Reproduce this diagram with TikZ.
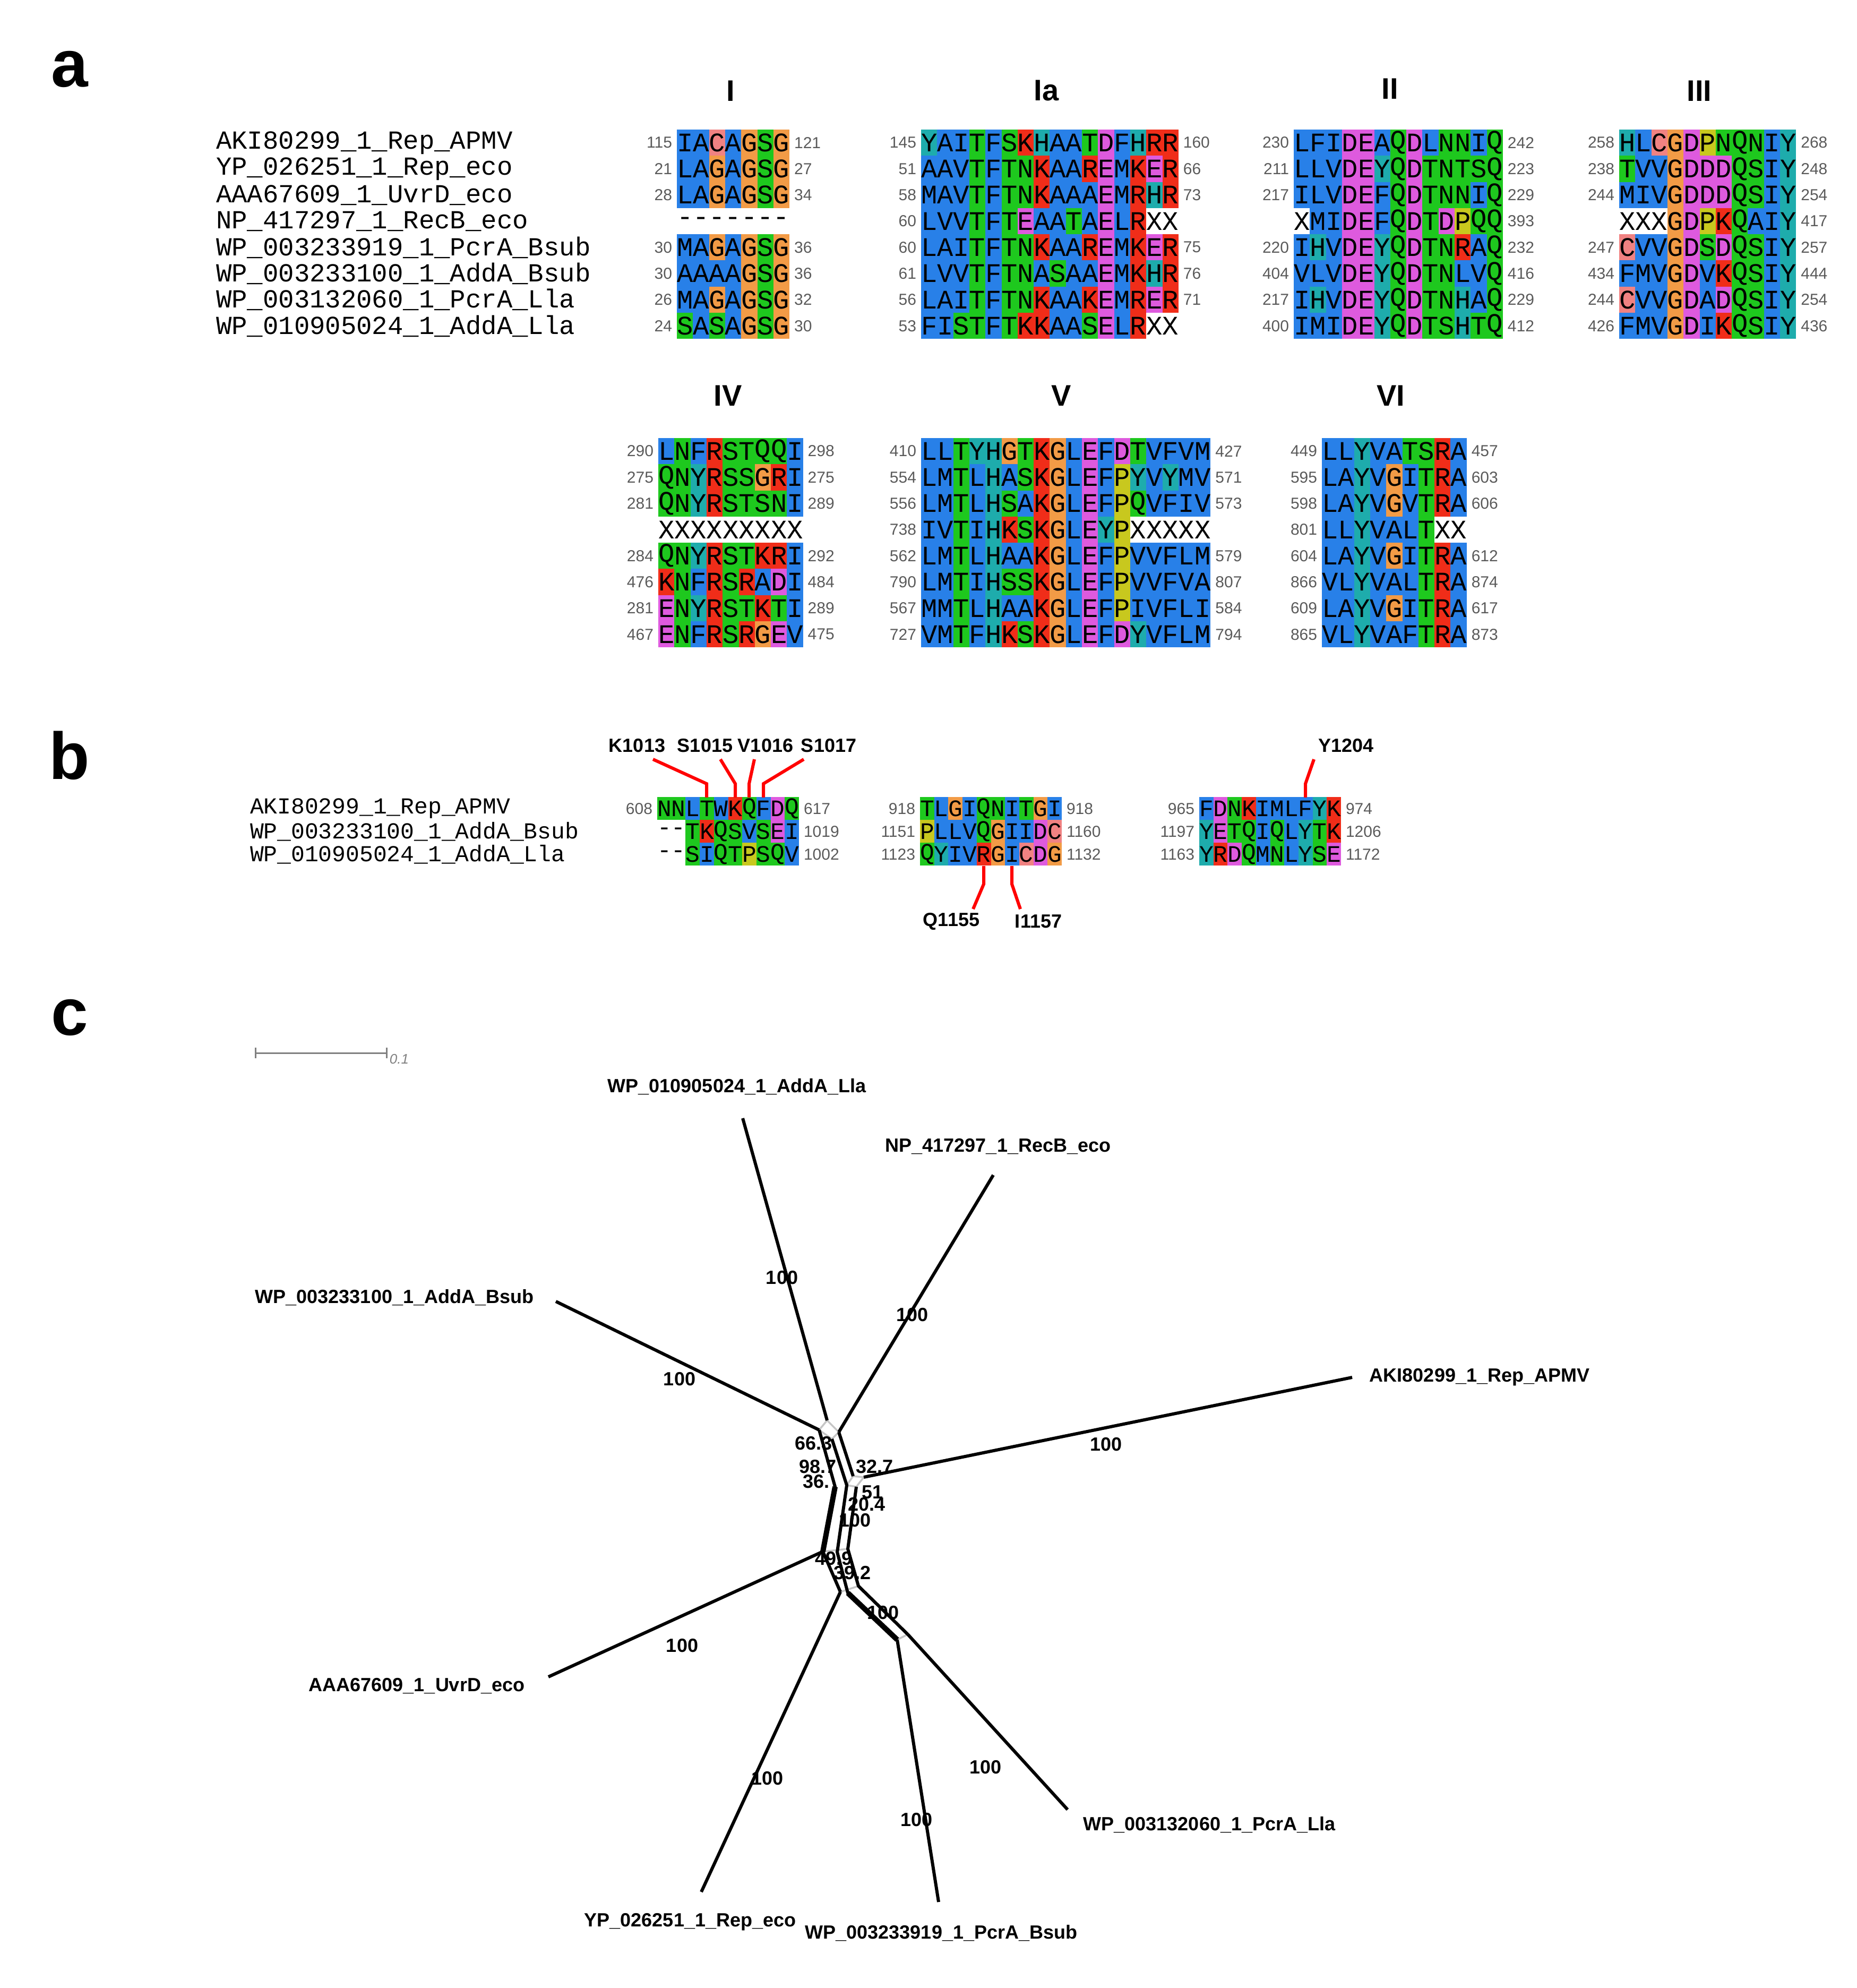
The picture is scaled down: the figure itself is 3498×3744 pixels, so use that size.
\documentclass[tikz,border=0pt]{standalone}
\usepackage{fontspec}
\setmainfont{Liberation Sans}
\newfontfamily\monof{Liberation Mono}
\definecolor{aBlue}{RGB}{40,128,232}
\definecolor{aGreen}{RGB}{30,200,30}
\definecolor{aRed}{RGB}{240,45,25}
\definecolor{aMag}{RGB}{222,90,222}
\definecolor{aOra}{RGB}{242,155,70}
\definecolor{aYel}{RGB}{200,200,30}
\definecolor{aCya}{RGB}{30,172,172}
\definecolor{aPink}{RGB}{240,130,130}
\definecolor{numgray}{RGB}{90,90,90}
\def\defcol#1#2{\expandafter\def\csname cm#1\endcsname{#2}}
\defcol{A}{aBlue}\defcol{I}{aBlue}\defcol{L}{aBlue}\defcol{M}{aBlue}\defcol{F}{aBlue}\defcol{V}{aBlue}\defcol{W}{aBlue}
\defcol{K}{aRed}\defcol{R}{aRed}\defcol{E}{aMag}\defcol{D}{aMag}
\defcol{N}{aGreen}\defcol{Q}{aGreen}\defcol{S}{aGreen}\defcol{T}{aGreen}
\defcol{G}{aOra}\defcol{P}{aYel}\defcol{H}{aCya}\defcol{Y}{aCya}\defcol{C}{aPink}
\defcol{X}{white}\defcol{-}{white}
\newcount\ci
\def\CW{30.3}\def\CH{49.3}\def\SeqSize{5.05pt}
\def\seqcell#1{\edef\thecol{\csname cm#1\endcsname}%
 \fill[fill=\thecol] (\Sx+\the\ci*\CW,\Sy) rectangle ++(\CW,\CH);
 \node[inner sep=0pt,font=\monof\fontsize{\SeqSize}{\SeqSize}\selectfont] at (\Sx+\the\ci*\CW+0.5*\CW,\Sy+0.5*\CH) {#1};
 \global\advance\ci by 1 }
\def\seqloop#1{\ifx#1\relax\else\seqcell{#1}\expandafter\seqloop\fi}
\newcommand\seqrow[5]{\def\Sx{#1}\def\Sy{#2}\global\ci=0 \seqloop#4\relax
 \node[numf,anchor=east] at (#1-7,#2+0.5*\CH) {#3};
 \node[numf,anchor=west] at (#1+\the\ci*\CW+7,#2+0.5*\CH) {#5};}
\begin{document}
\begin{tikzpicture}[x=0.1pt,y=-0.1pt,
 numf/.style={inner sep=0pt,text=numgray,font=\fontsize{3pt}{3pt}\selectfont},
 hdr/.style={font=\bfseries\fontsize{12.5pt}{12.5pt}\selectfont,inner sep=0pt},
 motif/.style={font=\bfseries\fontsize{5.6pt}{5.6pt}\selectfont,inner sep=0pt},
 nm/.style={anchor=west,inner sep=0pt,font=\monof\fontsize{4.9pt}{4.9pt}\selectfont},
 nmb/.style={anchor=west,inner sep=0pt,font=\monof\fontsize{4.3pt}{4.3pt}\selectfont},
 lab/.style={font=\bfseries\fontsize{3.6pt}{3.6pt}\selectfont,inner sep=0pt},
 redl/.style={draw=red,line width=0.6pt},
 br/.style={line width=0.6pt,line join=round},
 gr/.style={draw=gray!45,line width=0.35pt}]
\useasboundingbox (0,0) rectangle (3498,3744);
% ---------- a ----------
\node[hdr] (pa) at (131,131) {a};
\node[motif] (mI) at (1376,171) {I};
\node[motif] (mIa) at (1971,171) {Ia};
\node[motif] (mII) at (2618,167) {II};
\node[motif] (mIII) at (3201,171) {III};
\foreach \n [count=\i from 0] in {AKI80299\_1\_Rep\_APMV,YP\_026251\_1\_Rep\_eco,AAA67609\_1\_UvrD\_eco,NP\_417297\_1\_RecB\_eco,WP\_003233919\_1\_PcrA\_Bsub,WP\_003233100\_1\_AddA\_Bsub,WP\_003132060\_1\_PcrA\_Lla,WP\_010905024\_1\_AddA\_Lla}
  \node[nm] (n\i) at (405,269+49.3*\i) {\n};
% block I
\seqrow{1275}{244.0}{115}{IACAGSG}{121}
\seqrow{1275}{293.3}{21}{LAGAGSG}{27}
\seqrow{1275}{342.6}{28}{LAGAGSG}{34}
\seqrow{1275}{391.9}{}{-------}{}
\seqrow{1275}{441.2}{30}{MAGAGSG}{36}
\seqrow{1275}{490.5}{30}{AAAAGSG}{36}
\seqrow{1275}{539.8}{26}{MAGAGSG}{32}
\seqrow{1275}{589.1}{24}{SASAGSG}{30}
% block Ia
\seqrow{1735}{244.0}{145}{YAITFSKHAATDFHRR}{160}
\seqrow{1735}{293.3}{51}{AAVTFTNKAAREMKER}{66}
\seqrow{1735}{342.6}{58}{MAVTFTNKAAAEMRHR}{73}
\seqrow{1735}{391.9}{60}{LVVTFTEAATAELRXX}{}
\seqrow{1735}{441.2}{60}{LAITFTNKAAREMKER}{75}
\seqrow{1735}{490.5}{61}{LVVTFTNASAAEMKHR}{76}
\seqrow{1735}{539.8}{56}{LAITFTNKAAKEMRER}{71}
\seqrow{1735}{589.1}{53}{FISTFTKKAASELRXX}{}
% block II
\seqrow{2437}{244.0}{230}{LFIDEAQDLNNIQ}{242}
\seqrow{2437}{293.3}{211}{LLVDEYQDTNTSQ}{223}
\seqrow{2437}{342.6}{217}{ILVDEFQDTNNIQ}{229}
\seqrow{2437}{391.9}{}{XMIDEFQDTDPQQ}{393}
\seqrow{2437}{441.2}{220}{IHVDEYQDTNRAQ}{232}
\seqrow{2437}{490.5}{404}{VLVDEYQDTNLVQ}{416}
\seqrow{2437}{539.8}{217}{IHVDEYQDTNHAQ}{229}
\seqrow{2437}{589.1}{400}{IMIDEYQDTSHTQ}{412}
% block III
\seqrow{3050}{244.0}{258}{HLCGDPNQNIY}{268}
\seqrow{3050}{293.3}{238}{TVVGDDDQSIY}{248}
\seqrow{3050}{342.6}{244}{MIVGDDDQSIY}{254}
\seqrow{3050}{391.9}{}{XXXGDPKQAIY}{417}
\seqrow{3050}{441.2}{247}{CVVGDSDQSIY}{257}
\seqrow{3050}{490.5}{434}{FMVGDVKQSIY}{444}
\seqrow{3050}{539.8}{244}{CVVGDADQSIY}{254}
\seqrow{3050}{589.1}{426}{FMVGDIKQSIY}{436}
% second row of motifs
\node[motif] (mIV) at (1371,745) {IV};
\node[motif] (mV) at (1999,745) {V};
\node[motif] (mVI) at (2620,745) {VI};
\seqrow{1240}{825.0}{290}{LNFRSTQQI}{298}
\seqrow{1240}{874.3}{275}{QNYRSSGRI}{275}
\seqrow{1240}{923.6}{281}{QNYRSTSNI}{289}
\seqrow{1240}{972.9}{}{XXXXXXXXX}{}
\seqrow{1240}{1022.2}{284}{QNYRSTKRI}{292}
\seqrow{1240}{1071.5}{476}{KNFRSRADI}{484}
\seqrow{1240}{1120.8}{281}{ENYRSTKTI}{289}
\seqrow{1240}{1170.1}{467}{ENFRSRGEV}{475}
\seqrow{1735}{825.0}{410}{LLTYHGTKGLEFDTVFVM}{427}
\seqrow{1735}{874.3}{554}{LMTLHASKGLEFPYVYMV}{571}
\seqrow{1735}{923.6}{556}{LMTLHSAKGLEFPQVFIV}{573}
\seqrow{1735}{972.9}{738}{IVTIHKSKGLEYPXXXXX}{}
\seqrow{1735}{1022.2}{562}{LMTLHAAKGLEFPVVFLM}{579}
\seqrow{1735}{1071.5}{790}{LMTIHSSKGLEFPVVFVA}{807}
\seqrow{1735}{1120.8}{567}{MMTLHAAKGLEFPIVFLI}{584}
\seqrow{1735}{1170.1}{727}{VMTFHKSKGLEFDYVFLM}{794}
\seqrow{2490}{825.0}{449}{LLYVATSRA}{457}
\seqrow{2490}{874.3}{595}{LAYVGITRA}{603}
\seqrow{2490}{923.6}{598}{LAYVGVTRA}{606}
\seqrow{2490}{972.9}{801}{LLYVALTXX}{}
\seqrow{2490}{1022.2}{604}{LAYVGITRA}{612}
\seqrow{2490}{1071.5}{866}{VLYVALTRA}{874}
\seqrow{2490}{1120.8}{609}{LAYVGITRA}{617}
\seqrow{2490}{1170.1}{865}{VLYVAFTRA}{873}
% ---------- b ----------
\node[hdr] (pb) at (131,1423) {b};
\node[nmb] (b0) at (469,1523) {AKI80299\_1\_Rep\_APMV};
\node[nmb] (b1) at (469,1566) {WP\_003233100\_1\_AddA\_Bsub};
\node[nmb] (b2) at (469,1609) {WP\_010905024\_1\_AddA\_Lla};
\def\CW{26.7}\def\CH{43}\def\SeqSize{4.45pt}
\seqrow{1238}{1501.5}{608}{NNLTWKQFDQ}{617}
\seqrow{1238}{1544.5}{}{--TKQSVSEI}{1019}
\seqrow{1238}{1587.5}{}{--SIQTPSQV}{1002}
\seqrow{1733}{1501.5}{918}{TLGIQNITGI}{918}
\seqrow{1733}{1544.5}{1151}{PLLVQGIIDC}{1160}
\seqrow{1733}{1587.5}{1123}{QYIVRGICDG}{1132}
\seqrow{2259}{1501.5}{965}{FDNKIMLFYK}{974}
\seqrow{2259}{1544.5}{1197}{YETQIQLYTK}{1206}
\seqrow{2259}{1587.5}{1163}{YRDQMNLYSE}{1172}
\node[lab] (k1013) at (1200,1404) {K1013};
\node[lab] (s1015) at (1328,1404) {S1015};
\node[lab] (v1016) at (1442,1404) {V1016};
\node[lab] (s1017) at (1561,1404) {S1017};
\node[lab] (y1204) at (2535,1404) {Y1204};
\node[lab] (q1155) at (1792,1735) {Q1155};
\node[lab] (i1157) at (1956,1735) {I1157};
\draw[redl] (1230,1430) -- (1331,1476) -- (1331,1502);
\draw[redl] (1357,1430) -- (1385,1476) -- (1385,1502);
\draw[redl] (1421,1430) -- (1411,1476) -- (1411,1502);
\draw[redl] (1514,1430) -- (1438,1476) -- (1438,1502);
\draw[redl] (2475,1430) -- (2459,1476) -- (2459,1502);
\draw[redl] (1853,1631) -- (1853,1665) -- (1833,1712);
\draw[redl] (1906,1631) -- (1906,1665) -- (1922,1712);
% ---------- c ----------
\node[hdr] (pc) at (131,1916) {c};
\coordinate (sb1) at (481,1983); \coordinate (sb2) at (728,1983);
\draw[gray,line width=0.3pt] (sb1) -- (sb2);
\draw[gray,line width=0.3pt] (481,1973) -- (481,1993) (728,1973) -- (728,1993);
\node[text=gray,font=\itshape\fontsize{2.6pt}{2.6pt}\selectfont,inner sep=0pt] (sbl) at (752,1995) {0.1};
% network points
\coordinate (dT) at (1558,2675); \coordinate (dR) at (1580,2697);
\coordinate (dB) at (1567,2710); \coordinate (dL) at (1543,2693);
\coordinate (bA) at (1595,2797); \coordinate (bB) at (1607,2780);
\coordinate (bC) at (1627,2782); \coordinate (bD) at (1613,2800);
\coordinate (u1) at (1550,2922); \coordinate (u2) at (1577,2923); \coordinate (u3) at (1597,2917);
\coordinate (y1) at (1583,2998); \coordinate (y2) at (1597,3000); \coordinate (y3) at (1617,2987);
\coordinate (p1) at (1690,3088); \coordinate (p2) at (1710,3078);
\draw[gr] (dT) -- (dR) -- (dB) -- (dL) -- cycle;
\draw[gr] (bA) -- (bB) -- (bC) -- (bD) -- cycle;
\draw[gr] (u1) -- (u3) (y1) -- (y3) (p1) -- (p2);
\draw[br] (dL) -- (1573,2800) -- (u1) -- (y1);
\draw[br,line width=1pt] (1573,2800) -- (u1);
\draw[br] (dB) -- (bA) -- (u2) -- (y2) -- (p1);
\draw[br] (dR) -- (bB);
\draw[br] (bD) -- (u3) -- (y3) -- (p2);
\draw[br,line width=1pt] (y2) -- (p1);
% leaves
\node[lab] (LAddALla) at (1388,2047) {WP\_010905024\_1\_AddA\_Lla};
\node[lab] (LRecB) at (1880,2159) {NP\_417297\_1\_RecB\_eco};
\node[lab] (LAddABsub) at (743,2444) {WP\_003233100\_1\_AddA\_Bsub};
\node[lab] (LAKI) at (2787,2594) {AKI80299\_1\_Rep\_APMV};
\node[lab] (LUvrD) at (785,3175) {AAA67609\_1\_UvrD\_eco};
\node[lab] (LYP) at (1300,3620) {YP\_026251\_1\_Rep\_eco};
\node[lab] (LPcrABsub) at (1773,3641) {WP\_003233919\_1\_PcrA\_Bsub};
\node[lab] (LPcrALla) at (2278,3437) {WP\_003132060\_1\_PcrA\_Lla};
\coordinate (tAddALla) at (1399,2106);
\coordinate (tRecB) at (1871,2213);
\coordinate (tAddABsub) at (1047,2451);
\coordinate (tAKI) at (2547,2594);
\coordinate (tUvrD) at (1033,3158);
\coordinate (tYP) at (1321,3563);
\coordinate (tPcrABsub) at (1768,3582);
\coordinate (tPcrALla) at (2011,3408);
\draw[br] (tAddALla) -- (dT);
\draw[br] (tRecB) -- (dR);
\draw[br] (tAddABsub) -- (dL);
\draw[br] (tAKI) -- (bC);
\draw[br] (tUvrD) -- (u1);
\draw[br] (tYP) -- (y1);
\draw[br] (tPcrABsub) -- (p1);
\draw[br] (tPcrALla) -- (p2);
% support values
\foreach \x/\y/\t in {1473/2406/100,1718/2476/100,1280/2597/100,2083/2720/100,1285/3099/100,1445/3349/100,1726/3427/100,1856/3328/100,1663/3037/100,1532/2718/66.3,1540/2762/98.7,1537/2790/36.,1647/2762/32.7,1643/2810/51,1632/2833/20.4,1610/2863/100,1570/2935/49.9,1605/2962/39.2}
  \node[lab,fill=none] at (\x,\y) {\t};
\end{tikzpicture}
\end{document}
